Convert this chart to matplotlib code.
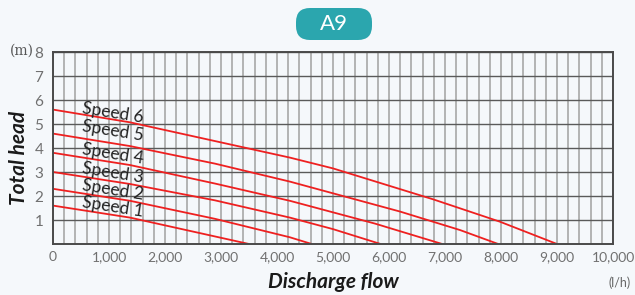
"""Pump curve chart for model A9 (total head vs discharge flow per speed)."""
import matplotlib.pyplot as plt
from matplotlib.patches import FancyBboxPatch
from matplotlib.ticker import FuncFormatter, MultipleLocator

# curve points (flow in l/h, head in m)
speed1_flow = [0, 1375, 3500]
speed1_head = [1.6, 1.1, 0.0]
speed2_flow = [0, 1375, 2890, 4230, 4620]
speed2_head = [2.3, 1.8, 1.05, 0.28, 0.0]
speed3_flow = [0, 1375, 2890, 4230, 5000, 5850]
speed3_head = [3.0, 2.5, 1.82, 1.1, 0.62, 0.0]
speed4_flow = [0, 1375, 2890, 4230, 5750, 6950]
speed4_head = [3.8, 3.29, 2.52, 1.8, 0.85, 0.0]
speed5_flow = [0, 1375, 2890, 4230, 6200, 7270, 7950]
speed5_head = [4.6, 4.08, 3.35, 2.6, 1.35, 0.58, 0.0]
speed6_flow = [0, 1375, 4230, 5000, 6790, 7980, 9000]
speed6_head = [5.6, 5.07, 3.6, 3.15, 1.86, 0.93, 0.0]

curves = [
    ("Speed 1", speed1_flow, speed1_head),
    ("Speed 2", speed2_flow, speed2_head),
    ("Speed 3", speed3_flow, speed3_head),
    ("Speed 4", speed4_flow, speed4_head),
    ("Speed 5", speed5_flow, speed5_head),
    ("Speed 6", speed6_flow, speed6_head),
]
# where each label sits (flow, head)
label_pos = [(1070, 1.56), (1070, 2.27), (1070, 2.98), (1070, 3.77), (1070, 4.69), (1070, 5.48)]

x_ticks = [0, 1000, 2000, 3000, 4000, 5000, 6000, 7000, 8000, 9000, 10000]
y_ticks = [1, 2, 3, 4, 5, 6, 7, 8]

bg = "#f5f8fb"
red = "#ee2020"
plt.rcParams['font.family'] = ['Lato', 'DejaVu Sans']

fig = plt.figure(figsize=(6.35, 2.95), dpi=100, facecolor=bg)
ax = fig.add_axes([53 / 635, 1 - 244 / 295, 560 / 635, 192 / 295])
ax.set_facecolor(bg)

ax.set_xlim(0, 10000)
ax.set_ylim(0, 8)

# grid: light verticals every 200, darker horizontals every 1 m
ax.xaxis.set_minor_locator(MultipleLocator(200))
ax.yaxis.set_major_locator(MultipleLocator(1))
ax.grid(which='minor', axis='x', color='#a8a8a8', lw=1.2)
ax.grid(which='major', axis='x', color='#a8a8a8', lw=1.2)
ax.grid(which='major', axis='y', color='#5a5a5a', lw=1.0)
ax.set_axisbelow(True)

for sp in ax.spines.values():
    sp.set_color('#4a4a4a')
    sp.set_linewidth(1.4)

for name, flow, head in curves:
    ax.plot(flow, head, color=red, lw=1.3, solid_capstyle='butt')

for (name, flow, head), (lx, ly) in zip(curves, label_pos):
    ax.text(lx, ly, name, rotation=-9, fontsize=12.5, color='#222222',
            ha='center', va='center', rotation_mode='anchor')

ax.set_xticks(x_ticks)
ax.set_yticks(y_ticks)
ax.xaxis.set_major_formatter(FuncFormatter(lambda v, p: f"{int(v):,}"))
ax.tick_params(axis='both', which='both', length=0, colors='#707070', labelsize=10)
ax.tick_params(axis='y', pad=7, labelsize=11)
ax.tick_params(axis='x', pad=5)

fig.text(10 / 635, 1 - 51 / 295, "(m)", fontsize=10, color='#555555',
         ha='left', va='center', family='DejaVu Serif')
fig.text(19 / 635, 1 - 158 / 295, "Total head", rotation=90, fontsize=15,
         fontweight='bold', fontstyle='italic', color='#1a1a1a', ha='center', va='center')
fig.text(333 / 635, 1 - 282 / 295, "Discharge flow", fontsize=15,
         fontweight='bold', fontstyle='italic', color='#1a1a1a', ha='center', va='center')
fig.text(620 / 635, 1 - 283 / 295, "(l/h)", fontsize=9, color='#666666',
         ha='center', va='center')

# title badge, drawn in a pixel-sized helper axes so the corners stay round
bax = fig.add_axes([296 / 635, 1 - 40 / 295, 76 / 635, 32 / 295])
bax.set_xlim(0, 76)
bax.set_ylim(0, 32)
bax.axis('off')
bax.add_patch(FancyBboxPatch((0, 0), 76, 32, boxstyle="round,pad=0,rounding_size=14",
                             fc='#2ba6ae', ec='none'))
bax.text(38, 16, "A9", fontsize=16, color='white', ha='center', va='center')

fig.savefig("out.png", dpi=100, facecolor=bg)
